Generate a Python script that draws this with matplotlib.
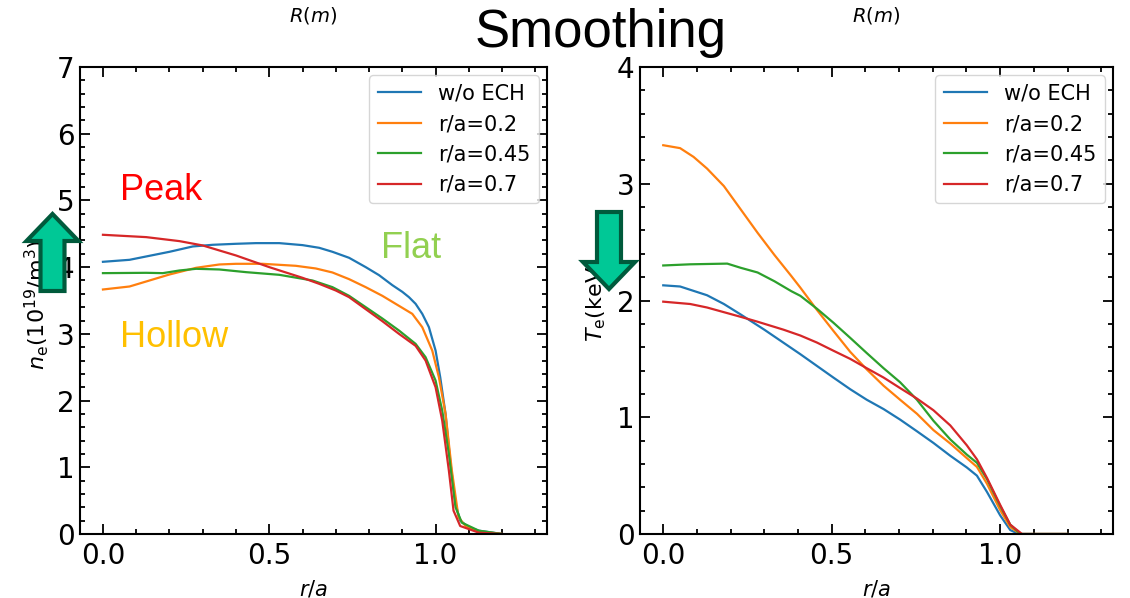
import numpy as np
import matplotlib
matplotlib.use("Agg")
import matplotlib.pyplot as plt
from matplotlib.patches import FancyArrow
from matplotlib.ticker import MultipleLocator

plt.rcParams['font.family'] = ['DejaVu Sans']
plt.rcParams['mathtext.fontset'] = 'dejavusans'

# Cases: no ECH, and ECH deposited at r/a = 0.2, 0.45, 0.7
labels = ['w/o ECH', 'r/a=0.2', 'r/a=0.45', 'r/a=0.7']
colors = ['C0', 'C1', 'C2', 'C3']

# Smoothed electron density profiles, ne (10^19 /m^3)
ne_r_noech = [0.0, 0.08, 0.13, 0.2, 0.27, 0.33, 0.4, 0.46, 0.53, 0.6, 0.65, 0.69, 0.74,
              0.79, 0.83, 0.87, 0.9, 0.92, 0.94, 0.96, 0.98, 1.0, 1.014, 1.03, 1.044,
              1.06, 1.074, 1.1, 1.13, 1.2]
ne_noech = [4.08, 4.11, 4.16, 4.23, 4.31, 4.335, 4.35, 4.36, 4.36, 4.33, 4.29, 4.23, 4.14,
            4.0, 3.88, 3.73, 3.63, 3.55, 3.45, 3.30, 3.10, 2.75, 2.35, 1.80, 1.10,
            0.45, 0.2, 0.1, 0.05, 0.0]

ne_r_02 = [0.0, 0.08, 0.13, 0.2, 0.28, 0.35, 0.4, 0.48, 0.58, 0.64, 0.69, 0.74, 0.79, 0.84,
           0.89, 0.93, 0.96, 0.99, 1.01, 1.03, 1.049, 1.069, 1.09, 1.13, 1.2]
ne_02 = [3.665, 3.71, 3.785, 3.89, 3.99, 4.04, 4.05, 4.05, 4.02, 3.98, 3.92, 3.82, 3.70, 3.57,
         3.42, 3.30, 3.10, 2.75, 2.35, 1.80, 0.95, 0.25, 0.12, 0.04, 0.0]

ne_r_045 = [0.0, 0.13, 0.18, 0.23, 0.28, 0.35, 0.43, 0.53, 0.63, 0.69, 0.74, 0.79, 0.84,
            0.89, 0.94, 0.97, 1.0, 1.02, 1.04, 1.06, 1.079, 1.13, 1.2]
ne_045 = [3.91, 3.915, 3.91, 3.95, 3.975, 3.965, 3.925, 3.885, 3.80, 3.70, 3.57, 3.40, 3.23,
          3.05, 2.85, 2.65, 2.30, 1.85, 1.2, 0.4, 0.17, 0.05, 0.0]

ne_r_07 = [0.0, 0.13, 0.23, 0.3, 0.4, 0.5, 0.6, 0.65, 0.7, 0.74, 0.79, 0.84, 0.89, 0.94,
           0.97, 1.0, 1.02, 1.04, 1.054, 1.074, 1.13, 1.2]
ne_07 = [4.485, 4.45, 4.39, 4.325, 4.175, 4.0, 3.84, 3.75, 3.65, 3.55, 3.37, 3.19, 3.0, 2.82,
         2.6, 2.2, 1.7, 0.95, 0.35, 0.12, 0.02, 0.0]

# Smoothed electron temperature profiles, Te (keV)
te_r_noech = [0.0, 0.05, 0.13, 0.18, 0.23, 0.30, 0.407, 0.456, 0.505, 0.555, 0.604, 0.654,
              0.703, 0.753, 0.802, 0.852, 0.901, 0.931, 0.961, 1.0, 1.03, 1.055, 1.2]
te_noech = [2.13, 2.12, 2.045, 1.97, 1.88, 1.75, 1.54, 1.44, 1.34, 1.24, 1.15, 1.07,
            0.98, 0.88, 0.78, 0.67, 0.57, 0.50, 0.36, 0.16, 0.034, 0.0, 0.0]

te_r_02 = [0.0, 0.05, 0.09, 0.13, 0.18, 0.23, 0.28, 0.33, 0.38, 0.407, 0.456, 0.505, 0.555,
           0.604, 0.654, 0.703, 0.753, 0.802, 0.852, 0.901, 0.931, 0.961, 1.0, 1.03, 1.06, 1.2]
te_02 = [3.33, 3.305, 3.23, 3.13, 2.98, 2.78, 2.58, 2.39, 2.21, 2.11, 1.92, 1.74, 1.56,
         1.41, 1.27, 1.15, 1.03, 0.89, 0.775, 0.65, 0.575, 0.43, 0.205, 0.06, 0.0, 0.0]

te_r_045 = [0.0, 0.08, 0.19, 0.23, 0.28, 0.33, 0.38, 0.407, 0.456, 0.505, 0.555, 0.604, 0.654,
            0.703, 0.753, 0.802, 0.852, 0.901, 0.931, 0.961, 1.0, 1.03, 1.06, 1.2]
te_045 = [2.30, 2.31, 2.316, 2.28, 2.24, 2.165, 2.08, 2.04, 1.93, 1.81, 1.68, 1.55, 1.42,
          1.30, 1.15, 0.97, 0.81, 0.68, 0.61, 0.47, 0.24, 0.08, 0.0, 0.0]

te_r_07 = [0.0, 0.08, 0.13, 0.18, 0.23, 0.278, 0.357, 0.407, 0.456, 0.505, 0.555, 0.604,
           0.654, 0.703, 0.753, 0.802, 0.852, 0.901, 0.931, 0.961, 1.0, 1.03, 1.065, 1.2]
te_07 = [1.99, 1.97, 1.94, 1.90, 1.86, 1.82, 1.75, 1.70, 1.64, 1.57, 1.50, 1.42,
         1.34, 1.25, 1.16, 1.06, 0.93, 0.76, 0.64, 0.48, 0.25, 0.08, 0.0, 0.0]

ne_profiles = [(ne_r_noech, ne_noech), (ne_r_02, ne_02), (ne_r_045, ne_045), (ne_r_07, ne_07)]
te_profiles = [(te_r_noech, te_noech), (te_r_02, te_02), (te_r_045, te_045), (te_r_07, te_07)]

W, H = 1130, 598
fig = plt.figure(figsize=(W / 100, H / 100), dpi=100)


def style_axes(ax, ymax):
    ax.set_xlim(-0.069, 1.335)
    ax.set_ylim(0, ymax)
    ax.xaxis.set_major_locator(MultipleLocator(0.5))
    ax.xaxis.set_minor_locator(MultipleLocator(0.1))
    ax.yaxis.set_major_locator(MultipleLocator(1))
    ax.yaxis.set_minor_locator(MultipleLocator(0.2))
    ax.tick_params(which='both', direction='in', top=True, right=True, width=1.3)
    ax.tick_params(which='major', length=7, labelsize=20)
    ax.tick_params(axis='x', which='major', pad=6)
    ax.tick_params(axis='y', which='major', pad=4)
    ax.tick_params(which='minor', length=3.5)
    for sp in ax.spines.values():
        sp.set_linewidth(1.5)
    ax.set_xlabel('$r/a$', fontsize=15)
    ax.xaxis.set_label_coords(0.5, -0.095)
    ax.text(0.5, 1.111, '$R(m)$', transform=ax.transAxes, ha='center', va='center', fontsize=14)
    ax.legend(loc='upper right', fontsize=15, borderaxespad=0.4, handlelength=2.1)


ax1 = fig.add_axes([80 / W, 1 - 534 / H, 467 / W, 467 / H])
for (r, v), c, lab in zip(ne_profiles, colors, labels):
    ax1.plot(r, v, color=c, lw=1.6, label=lab)
style_axes(ax1, 7)
ax1.set_ylabel(r'$n_\mathrm{e}(10^{19}/\mathrm{m}^3)$', fontsize=16)
ax1.yaxis.set_label_coords(-0.062, 0.49)

ax2 = fig.add_axes([640 / W, 1 - 534 / H, 473 / W, 467 / H])
for (r, v), c, lab in zip(te_profiles, colors, labels):
    ax2.plot(r, v, color=c, lw=1.6, label=lab)
style_axes(ax2, 4)
ax2.set_ylabel(r'$T_\mathrm{e}$(keV)', fontsize=16)
ax2.yaxis.set_label_coords(-0.068, 0.5)

# Overlay in pixel units for the slide annotations
ov = fig.add_axes([0, 0, 1, 1], zorder=10)
ov.set_xlim(0, W)
ov.set_ylim(H, 0)
ov.axis('off')

ov.text(601, 47, 'Smoothing', family='Liberation Sans', fontsize=38, ha='center', va='baseline')
ov.text(120, 200, 'Peak', family='Liberation Sans', fontsize=26, color='#FF0000', va='baseline')
ov.text(120, 347, 'Hollow', family='Liberation Sans', fontsize=26, color='#FFC000', va='baseline')
ov.text(381, 258, 'Flat', family='Liberation Sans', fontsize=26, color='#92D050', va='baseline')

arrow_kw = dict(length_includes_head=True, facecolor='#00C896', edgecolor='#005A3C', lw=3)
ov.add_patch(FancyArrow(52.5, 291, 0, -77, width=24, head_width=52, head_length=27, **arrow_kw))
ov.add_patch(FancyArrow(609, 212, 0, 77, width=24, head_width=52, head_length=27, **arrow_kw))

fig.savefig('out.png', dpi=100)
